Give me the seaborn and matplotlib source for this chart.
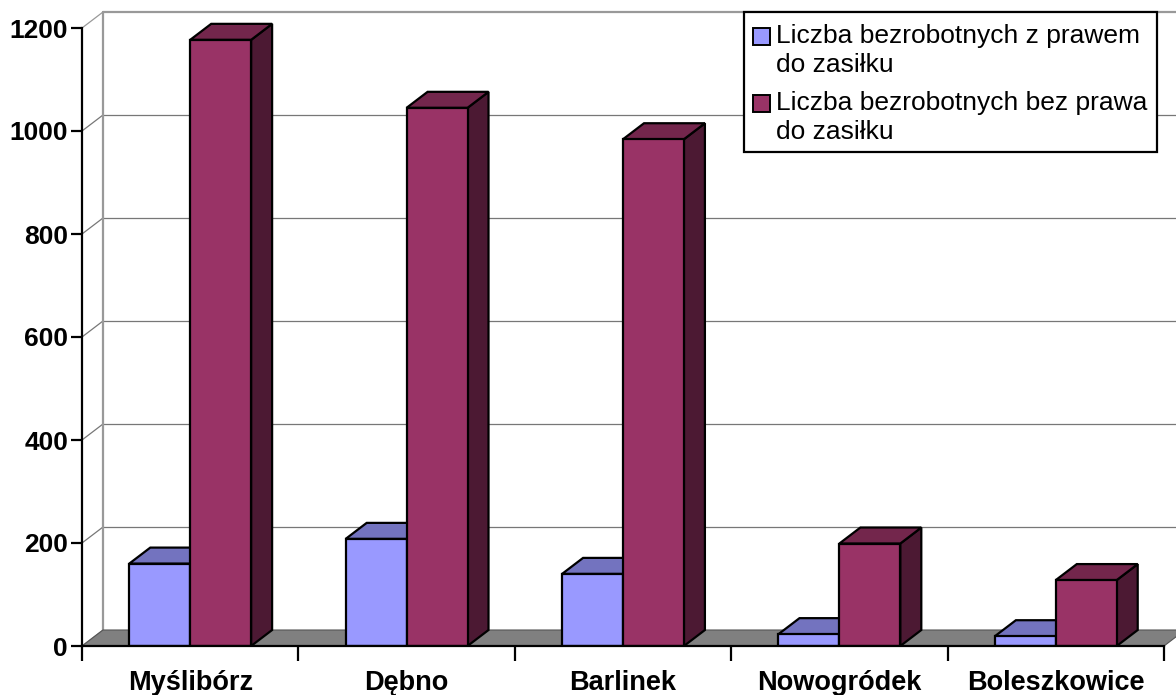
import matplotlib
matplotlib.use("Agg")
import matplotlib.pyplot as plt
from matplotlib.patches import Polygon, Rectangle
import seaborn as sns
import pandas as pd

gminy = ["Myślibórz", "Dębno", "Barlinek", "Nowogródek", "Boleszkowice"]
serie = ["Liczba bezrobotnych z prawem\ndo zasiłku",
         "Liczba bezrobotnych bez prawa\ndo zasiłku"]
z_prawem = [160, 208, 140, 23, 19]
bez_prawa = [1177, 1045, 984, 199, 128]
y_ticks = [0, 200, 400, 600, 800, 1000, 1200]

front_colors = ["#9999FF", "#993366"]
top_colors = ["#7373BF", "#73264C"]
side_colors = ["#4C4C80", "#4C1933"]

df = pd.DataFrame({
    "gmina": gminy * 2,
    "seria": [serie[0]] * len(gminy) + [serie[1]] * len(gminy),
    "liczba": z_prawem + bez_prawa,
})

sns.set_theme(style="white")
plt.rcParams["font.family"] = ["Liberation Sans", "DejaVu Sans"]
plt.rcParams["text.color"] = "black"
plt.rcParams["xtick.color"] = "black"
plt.rcParams["ytick.color"] = "black"

W, H = 1176, 695
fig = plt.figure(figsize=(W / 100, H / 100), dpi=100)
ax = fig.add_axes([82 / W, (H - 646) / H, (1164 - 82) / W, (646 - 12) / H])

# depth of the 3D effect in pixels
DX_PX, DY_PX = 21, 16
ymax = 1200 + 1200 * DY_PX / (646 - 28)
ax.set_xlim(-0.5, len(gminy) - 0.5)
ax.set_ylim(0, ymax)
px_x = (1164 - 82) / len(gminy)
px_y = (646 - 12) / ymax
dx = DX_PX / px_x
dy = DY_PX / px_y
LW = 1.6

sns.barplot(data=df, x="gmina", y="liczba", hue="seria", order=gminy,
            hue_order=serie, palette=front_colors, width=0.563,
            edgecolor="black", linewidth=LW, saturation=1,
            legend=False, ax=ax)

x0, x1 = -0.5, len(gminy) - 0.5

# back wall and side wall gridlines
for v in y_ticks:
    col = "#999999" if v in (0, 1200) else "#777777"
    lw = 1.6 if v == 1200 else 0.9
    if v > 0:
        ax.plot([x0 + dx, x1 + dx + 0.2], [v + dy, v + dy], color=col,
                lw=lw, zorder=0.5, clip_on=False)
    ax.plot([x0, x0 + dx], [v, v + dy], color=col, lw=0.9, zorder=0.5,
            clip_on=False)
ax.plot([x0 + dx, x0 + dx], [dy, 1200 + dy], color="#999999", lw=1.6,
        zorder=0.5, clip_on=False)

# floor
floor = Polygon([[x0, 0], [x1, 0], [x1 + dx, dy], [x0 + dx, dy]],
                closed=True, facecolor="#808080", edgecolor="#555555",
                lw=0.8, zorder=1, clip_on=False)
ax.add_patch(floor)

# 3D tops and sides of the bars
for i, cont in enumerate(ax.containers):
    for bar in cont.patches:
        bar.set_zorder(3 + 2 * i)
        bx, bw, bh = bar.get_x(), bar.get_width(), bar.get_height()
        top = Polygon([[bx, bh], [bx + bw, bh], [bx + bw + dx, bh + dy],
                       [bx + dx, bh + dy]], closed=True,
                      facecolor=top_colors[i], edgecolor="black", lw=LW,
                      zorder=2.9 + 2 * i, clip_on=False)
        side = Polygon([[bx + bw, 0], [bx + bw + dx, dy],
                        [bx + bw + dx, bh + dy], [bx + bw, bh]], closed=True,
                       facecolor=side_colors[i], edgecolor="black", lw=LW,
                       zorder=2.8 + 2 * i, clip_on=False)
        ax.add_patch(top)
        ax.add_patch(side)

# axes styling
for s in ["top", "right"]:
    ax.spines[s].set_visible(False)
ax.spines["left"].set_bounds(0, 1200)
for s in ["left", "bottom"]:
    ax.spines[s].set_color("black")
    ax.spines[s].set_linewidth(LW)
    ax.spines[s].set_zorder(10)

ax.set_yticks(y_ticks)
ax.set_yticklabels([str(v) for v in y_ticks], fontsize=19, fontweight="bold")
ax.tick_params(axis="y", direction="out", length=8, width=LW, color="black",
               left=True, pad=2)

ax.set_xticks(range(len(gminy)))
ax.set_xticklabels(gminy, fontsize=19.5, fontweight="bold")
ax.set_xticks([i - 0.5 for i in range(len(gminy) + 1)], minor=True)
ax.tick_params(axis="x", which="major", length=0, pad=17)
ax.tick_params(axis="x", which="minor", direction="out", length=11,
               width=LW, color="black", bottom=True)
ax.set_xlabel("")
ax.set_ylabel("")
ax.grid(False)

# legend box drawn in figure pixel space (square aligned with first line)
lax = fig.add_axes([0, 0, 1, 1], zorder=20)
lax.set_xlim(0, W)
lax.set_ylim(H, 0)
lax.axis("off")
lax.patch.set_alpha(0)
lax.add_patch(Rectangle((744, 12), 413, 140, facecolor="white",
                        edgecolor="black", lw=LW))
for k, (lab, col) in enumerate(zip(serie, front_colors)):
    base = 43 + k * 67
    lax.add_patch(Rectangle((753, base - 15), 17, 17, facecolor=col,
                            edgecolor="black", lw=1.4))
    for j, line in enumerate(lab.split("\n")):
        lax.text(776, base + j * 29, line, fontsize=19, ha="left",
                 va="baseline")

fig.savefig("out.png", dpi=100)
